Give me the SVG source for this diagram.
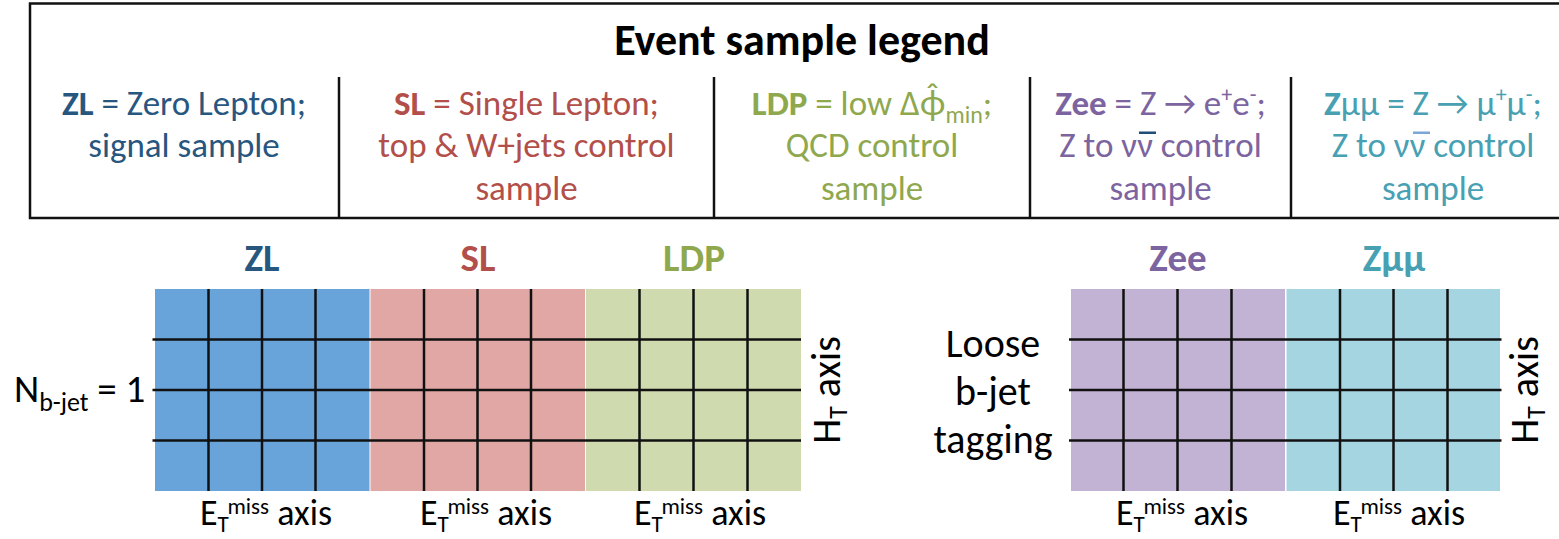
<svg xmlns="http://www.w3.org/2000/svg" width="1559" height="539" viewBox="0 0 1559 539">
<style>
text{font-family:Carlito,Lato,"Open Sans",sans-serif;}
.lg{font-size:35px;text-anchor:middle;}
.b{font-weight:bold;}
.zl{fill:#27567f;}
.sl{fill:#b24f4a;}
.ldp{fill:#8fa84e;}
.zee{fill:#7c64a0;}
.zmm{fill:#48a0b3;}
.ttl{font-size:39px;font-weight:bold;text-anchor:middle;}
.ax{font-size:36px;fill:#000;}
.ht{font-size:40px;fill:#000;text-anchor:middle;}
.gl{stroke:#111;stroke-width:2.5;fill:none;}
.bx{stroke:#111;stroke-width:2.5;fill:none;}
</style>

<g id="legend">
<rect class="bx" x="30" y="3.5" width="1600" height="214.5" fill="#fff"/>
<line class="bx" x1="339" y1="77" x2="339" y2="218"/>
<line class="bx" x1="714" y1="77" x2="714" y2="218"/>
<line class="bx" x1="1030" y1="77" x2="1030" y2="218"/>
<line class="bx" x1="1291" y1="77" x2="1291" y2="218"/>
<text x="802" y="55" style="font-size:44px;font-weight:bold;text-anchor:middle" fill="#000">Event sample legend</text>

<text class="lg zl" x="184" y="115"><tspan class="b">ZL</tspan> = Zero Lepton;</text>
<text class="lg zl" x="184" y="157">signal sample</text>

<text class="lg sl" x="526.5" y="115"><tspan class="b">SL</tspan> = Single Lepton;</text>
<text class="lg sl" x="526.5" y="157">top &amp; W+jets control</text>
<text class="lg sl" x="526.5" y="200">sample</text>

<text class="lg ldp" x="872" y="115"><tspan class="b">LDP</tspan> = low Δϕ̂<tspan font-size="24" dy="8">min</tspan><tspan dy="-8">;</tspan></text>
<text class="lg ldp" x="872" y="157">QCD control</text>
<text class="lg ldp" x="872" y="200">sample</text>

<text class="lg zee" x="1160.5" y="115"><tspan class="b">Zee</tspan> = Z → e<tspan font-size="22" dy="-13">+</tspan><tspan dy="13">e</tspan><tspan font-size="22" dy="-13">-</tspan><tspan dy="13">;</tspan></text>
<text class="lg zee" x="1160.5" y="157">Z to νν control</text>
<text class="lg zee" x="1160.5" y="200">sample</text>
<rect x="1139" y="131.5" width="17" height="2.5" fill="#1f4e79"/>

<text class="lg zmm" x="1433" y="115"><tspan class="b">Z</tspan>μμ = Z → μ<tspan font-size="22" dy="-13">+</tspan><tspan dy="13">μ</tspan><tspan font-size="22" dy="-13">-</tspan><tspan dy="13">;</tspan></text>
<text class="lg zmm" x="1433" y="157">Z to νν control</text>
<text class="lg zmm" x="1433" y="200">sample</text>
<rect x="1413" y="131.5" width="17" height="2.5" fill="#7ba7d8"/>
</g>

<g id="grid-left">
<rect x="155" y="289" width="214.5" height="202" fill="#68a3da"/>
<rect x="370.5" y="289" width="214.5" height="202" fill="#e0a7a5"/>
<rect x="586" y="289" width="215" height="202" fill="#cfdbae"/>
<g class="gl">
<line x1="208.5" y1="289" x2="208.5" y2="491"/>
<line x1="262" y1="289" x2="262" y2="491"/>
<line x1="315.5" y1="289" x2="315.5" y2="491"/>
<line x1="424" y1="289" x2="424" y2="491"/>
<line x1="477.5" y1="289" x2="477.5" y2="491"/>
<line x1="531" y1="289" x2="531" y2="491"/>
<line x1="639.5" y1="289" x2="639.5" y2="491"/>
<line x1="693.5" y1="289" x2="693.5" y2="491"/>
<line x1="747.5" y1="289" x2="747.5" y2="491"/>
<line x1="152.5" y1="339.5" x2="801" y2="339.5"/>
<line x1="152.5" y1="390" x2="801" y2="390"/>
<line x1="152.5" y1="440.5" x2="801" y2="440.5"/>
</g>
<text class="ttl zl" x="262" y="271">ZL</text>
<text class="ttl sl" x="478" y="271">SL</text>
<text class="ttl ldp" x="694" y="271">LDP</text>
<text x="14" y="402" style="font-size:39px" fill="#000">N<tspan font-size="26" dy="9">b-jet</tspan><tspan dy="-9"> = 1</tspan></text>
<text class="ht" transform="translate(840,390) rotate(-90)">H<tspan font-size="26" dy="7">T</tspan><tspan dy="-7"> axis</tspan></text>
<text class="ax" x="200" y="525">E<tspan font-size="23" dy="7">T</tspan><tspan font-size="23" dy="-18">miss</tspan><tspan dy="11"> axis</tspan></text>
<text class="ax" x="420" y="525">E<tspan font-size="23" dy="7">T</tspan><tspan font-size="23" dy="-18">miss</tspan><tspan dy="11"> axis</tspan></text>
<text class="ax" x="634" y="525">E<tspan font-size="23" dy="7">T</tspan><tspan font-size="23" dy="-18">miss</tspan><tspan dy="11"> axis</tspan></text>
</g>

<g id="grid-right">
<rect x="1071" y="289" width="214" height="202" fill="#c2b2d4"/>
<rect x="1286.5" y="289" width="213.5" height="202" fill="#a6d5e2"/>
<g class="gl">
<line x1="1123.5" y1="289" x2="1123.5" y2="491"/>
<line x1="1177.5" y1="289" x2="1177.5" y2="491"/>
<line x1="1231.5" y1="289" x2="1231.5" y2="491"/>
<line x1="1340" y1="289" x2="1340" y2="491"/>
<line x1="1393.5" y1="289" x2="1393.5" y2="491"/>
<line x1="1447.5" y1="289" x2="1447.5" y2="491"/>
<line x1="1069" y1="339.5" x2="1501.5" y2="339.5"/>
<line x1="1069" y1="390" x2="1501.5" y2="390"/>
<line x1="1069" y1="440.5" x2="1501.5" y2="440.5"/>
</g>
<text class="ttl zee" x="1178" y="271">Zee</text>
<text class="ttl zmm" x="1394" y="271">Zμμ</text>
<text x="993" y="357" style="font-size:40px;text-anchor:middle" fill="#000">Loose</text>
<text x="993" y="405" style="font-size:40px;text-anchor:middle" fill="#000">b-jet</text>
<text x="993" y="453" style="font-size:40px;text-anchor:middle" fill="#000">tagging</text>
<text class="ht" transform="translate(1538,390) rotate(-90)">H<tspan font-size="26" dy="7">T</tspan><tspan dy="-7"> axis</tspan></text>
<text class="ax" x="1116" y="525">E<tspan font-size="23" dy="7">T</tspan><tspan font-size="23" dy="-18">miss</tspan><tspan dy="11"> axis</tspan></text>
<text class="ax" x="1333" y="525">E<tspan font-size="23" dy="7">T</tspan><tspan font-size="23" dy="-18">miss</tspan><tspan dy="11"> axis</tspan></text>
</g>
</svg>
